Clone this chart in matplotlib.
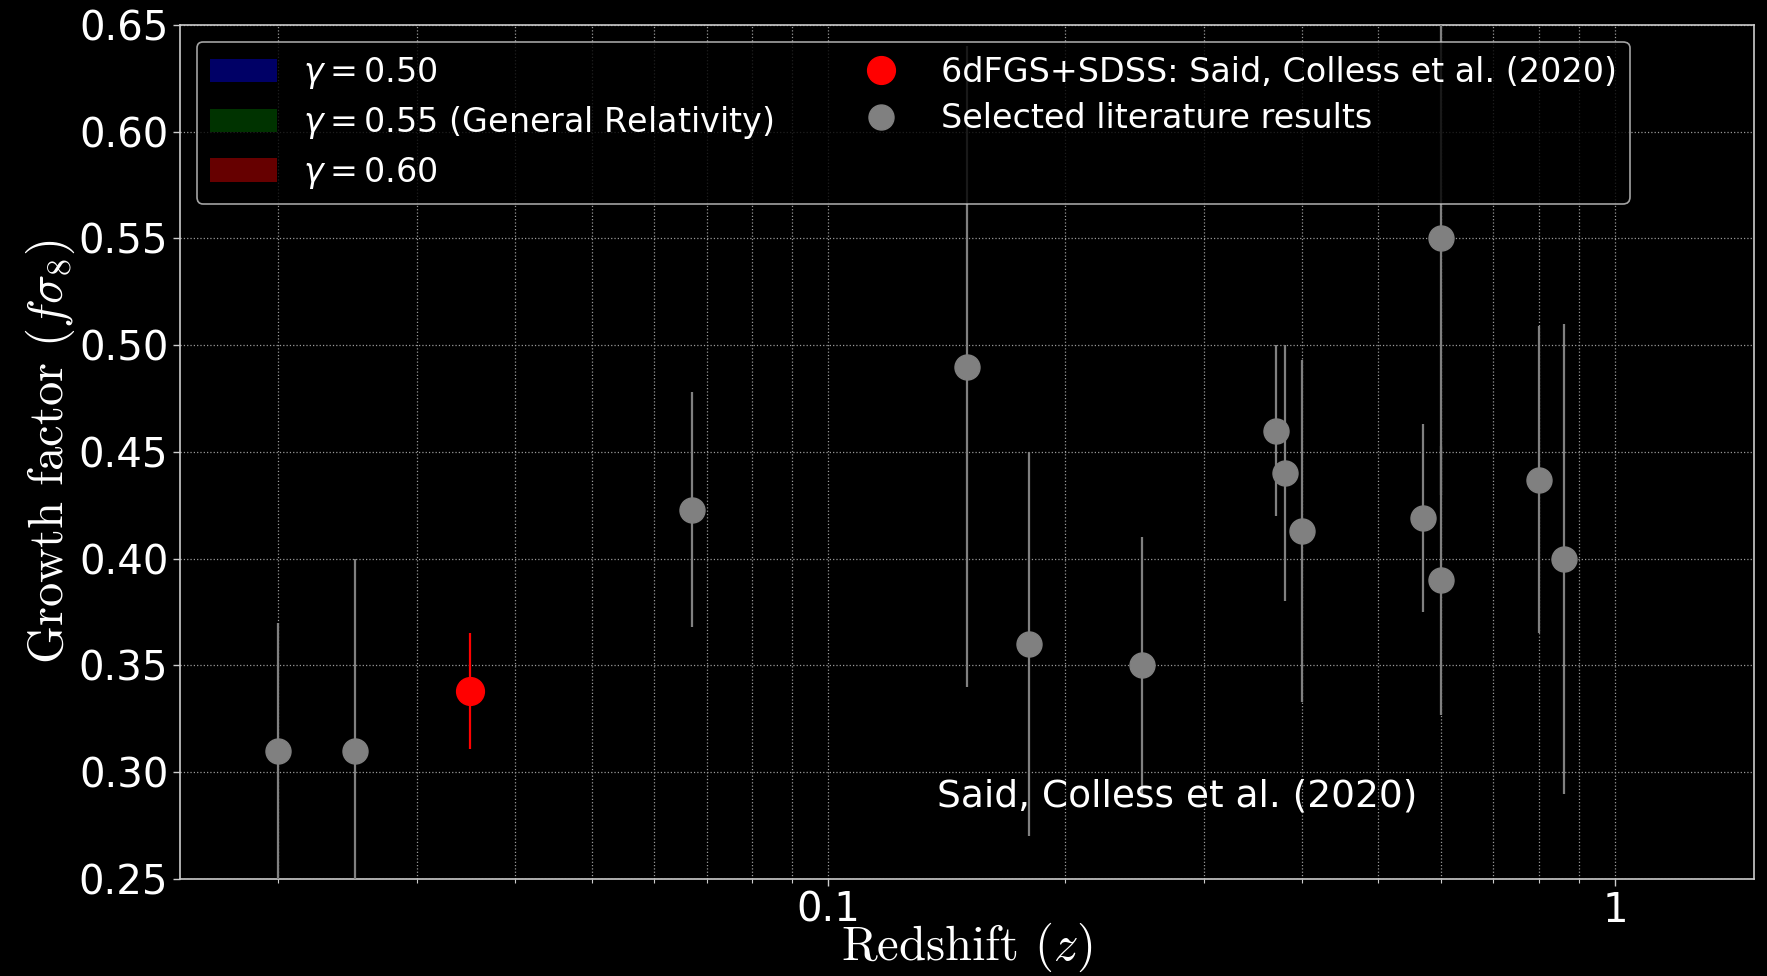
import matplotlib
matplotlib.use("Agg")
import matplotlib.pyplot as plt
from matplotlib.patches import Patch
from matplotlib.lines import Line2D
from matplotlib.ticker import FixedLocator, NullFormatter, LogLocator

# ---- data ----
z_lit = [0.02, 0.025, 0.067, 0.15, 0.18, 0.25, 0.37, 0.38, 0.40, 0.57, 0.60, 0.60, 0.80, 0.86]
fs8_lit = [0.31, 0.31, 0.423, 0.49, 0.36, 0.35, 0.46, 0.44, 0.413, 0.419, 0.55, 0.39, 0.437, 0.40]
err_lit = [0.06, 0.09, 0.055, 0.15, 0.09, 0.06, 0.04, 0.06, 0.08, 0.044, 0.12, 0.063, 0.072, 0.11]

z_said = [0.035]
fs8_said = [0.338]
err_said = [0.027]

gamma_labels = [r"$\gamma = 0.50$", r"$\gamma = 0.55$ (General Relativity)", r"$\gamma = 0.60$"]
gamma_colors = ["#000066", "#003300", "#660000"]

xticks = [0.1, 1]
xtick_labels = ["0.1", "1"]
yticks = [0.25, 0.30, 0.35, 0.40, 0.45, 0.50, 0.55, 0.60, 0.65]

fig = plt.figure(figsize=(17.67, 9.76), dpi=100, facecolor="black")
ax = fig.add_axes([0.1019, 0.0994, 0.8907, 0.875])
ax.set_facecolor("black")

ax.errorbar(z_lit, fs8_lit, yerr=err_lit, fmt="o", color="#808080", ecolor="#808080",
            markersize=18, elinewidth=1.6, capsize=0, zorder=3)
ax.errorbar(z_said, fs8_said, yerr=err_said, fmt="o", color="red", ecolor="red",
            markersize=20, elinewidth=1.6, capsize=0, zorder=4)

ax.set_xscale("log")
ax.set_xlim(0.015, 1.5)
ax.set_ylim(0.25, 0.65)

ax.xaxis.set_major_locator(FixedLocator(xticks))
ax.set_xticklabels(xtick_labels)
ax.xaxis.set_minor_locator(LogLocator(base=10, subs=range(2, 10)))
ax.xaxis.set_minor_formatter(NullFormatter())
ax.set_yticks(yticks)
ax.set_yticklabels([f"{v:.2f}" for v in yticks])

ax.tick_params(axis="both", which="major", labelsize=29, colors="#cccccc",
               labelcolor="white", length=5, width=1)
ax.tick_params(axis="x", which="minor", colors="#cccccc", length=3, width=0.8)

for s in ax.spines.values():
    s.set_color("#cccccc")
    s.set_linewidth(1.2)

ax.grid(True, which="major", axis="both", color="#999999", linestyle=":", linewidth=0.9)
ax.grid(True, which="minor", axis="x", color="#999999", linestyle=":", linewidth=0.9)
ax.set_axisbelow(True)

ax.set_xlabel(r"Redshift $(z)$", fontsize=35, color="white", fontfamily="cmr10",
              math_fontfamily="cm", labelpad=-7)
ax.set_ylabel(r"Growth factor $(f\sigma_8)$", fontsize=35, color="white", fontfamily="cmr10",
              math_fontfamily="cm", labelpad=1)

ax.text(0.481, 0.097, "Said, Colless et al. (2020)", transform=ax.transAxes,
        fontsize=27, color="white", ha="left", va="center")

handles = [Patch(facecolor=c, edgecolor="none") for c in gamma_colors]
labels = list(gamma_labels)
handles += [Line2D([], [], marker="o", linestyle="none", color="red", markersize=20),
            Line2D([], [], marker="o", linestyle="none", color="#808080", markersize=18)]
labels += ["6dFGS+SDSS: Said, Colless et al. (2020)", "Selected literature results"]
# pad second column
handles.append(Line2D([], [], linestyle="none"))
labels.append("")

leg = ax.legend(handles, labels, loc="upper left", ncol=2, fontsize=24,
                facecolor="black", edgecolor="#cccccc", framealpha=0.8,
                labelcolor="white", labelspacing=0.4, columnspacing=2.2)
leg.get_frame().set_linewidth(1.2)

fig.savefig("out.png", dpi=100, facecolor="black")
